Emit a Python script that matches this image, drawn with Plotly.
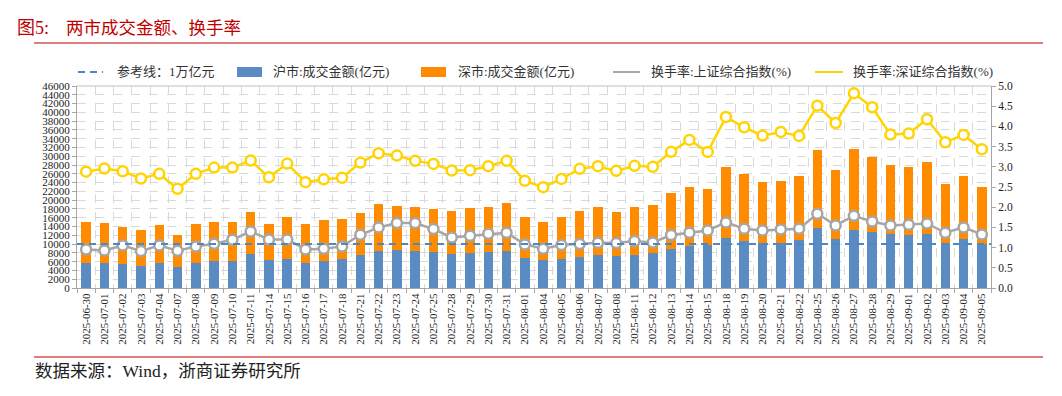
import plotly.graph_objects as go

dates = ["2025-06-30", "2025-07-01", "2025-07-02", "2025-07-03", "2025-07-04", "2025-07-07",
         "2025-07-08", "2025-07-09", "2025-07-10", "2025-07-11", "2025-07-14", "2025-07-15",
         "2025-07-16", "2025-07-17", "2025-07-18", "2025-07-21", "2025-07-22", "2025-07-23",
         "2025-07-24", "2025-07-25", "2025-07-28", "2025-07-29", "2025-07-30", "2025-07-31",
         "2025-08-01", "2025-08-04", "2025-08-05", "2025-08-06", "2025-08-07", "2025-08-08",
         "2025-08-11", "2025-08-12", "2025-08-13", "2025-08-14", "2025-08-15", "2025-08-18",
         "2025-08-19", "2025-08-20", "2025-08-21", "2025-08-22", "2025-08-25", "2025-08-26",
         "2025-08-27", "2025-08-28", "2025-08-29", "2025-09-01", "2025-09-02", "2025-09-03",
         "2025-09-04", "2025-09-05"]

sh_amount = [5760, 5610, 5530, 5080, 5760, 4850, 5760, 6060, 6210, 7650, 6290, 6520, 5760, 6210,
             6520, 7430, 8490, 8640, 8490, 8260, 7730, 8030, 8260, 8490, 6900, 6440, 6670, 7120,
             7580, 7200, 7580, 7880, 8940, 9550, 9700, 11370, 10610, 10230, 10230, 10990, 13720,
             11220, 13260, 12660, 12280, 12130, 12350, 10160, 11060, 9930]

sz_amount = [9170, 9090, 8340, 8030, 8560, 7280, 8870, 9020, 8790, 9550, 8340, 9700, 8710, 9250,
             9240, 9620, 10530, 10080, 10000, 9700, 9780, 10080, 10230, 10910, 9170, 8640, 9400,
             10310, 10760, 10000, 10760, 10990, 12660, 13340, 12810, 16290, 15310, 13870, 14100,
             14550, 17730, 15680, 18420, 17120, 15760, 15380, 16450, 13480, 14400, 13180]

sh_turnover = [0.955, 0.93, 1.054, 0.914, 1.054, 0.92, 1.03, 1.095, 1.194, 1.40, 1.20, 1.20, 0.955,
               0.97, 1.03, 1.318, 1.50, 1.606, 1.606, 1.458, 1.252, 1.293, 1.343, 1.367, 1.079,
               0.972, 1.063, 1.087, 1.12, 1.112, 1.161, 1.128, 1.31, 1.367, 1.425, 1.623, 1.466,
               1.425, 1.45, 1.466, 1.837, 1.549, 1.787, 1.647, 1.549, 1.565, 1.598, 1.367, 1.50,
               1.326]

sz_turnover = [2.88, 2.957, 2.89, 2.71, 2.825, 2.455, 2.825, 2.98, 2.98, 3.155, 2.74, 3.08, 2.62,
               2.69, 2.73, 3.105, 3.336, 3.278, 3.147, 3.072, 2.908, 2.916, 3.015, 3.147, 2.652,
               2.496, 2.70, 2.949, 3.015, 2.90, 3.023, 3.00, 3.37, 3.665, 3.369, 4.234, 3.978,
               3.772, 3.863, 3.764, 4.514, 4.085, 4.819, 4.473, 3.797, 3.822, 4.176, 3.608, 3.789,
               3.435]

ref_level = 10000  # 1万亿元

names = ["参考线：1万亿元", "沪市:成交金额(亿元)", "深市:成交金额(亿元)",
         "换手率:上证综合指数(%)", "换手率:深证综合指数(%)"]

title_label = "图5:"
title_text = "两市成交金额、换手率"
source_text = "数据来源：Wind，浙商证券研究所"

# the page body has an 8px default margin; positions below are in window pixels
OFF = 8
W, H = 1062 - OFF, 396 - OFF
L, R, T, B = 77 - OFF, 991 - OFF, 86 - OFF, 288 - OFF

def px(x):
    return ((x - OFF) - L) / (R - L)

def py(y):
    return (B - (y - OFF)) / (B - T)

SERIF = "Liberation Serif, Noto Sans CJK SC, serif"
C_BLUE = "#5A8BC2"
C_ORANGE = "#FF8C00"
C_GREY = "#A6A6A6"
C_YELLOW = "#FFD400"
C_REF = "#4A88CC"
C_RED = "#C00000"
REF_DASH = "7px,5px"

fig = go.Figure()

fig.add_trace(go.Bar(x=dates, y=sh_amount, name=names[1], marker=dict(color=C_BLUE, line=dict(width=0)),
                     xaxis="x", yaxis="y"))
fig.add_trace(go.Bar(x=dates, y=sz_amount, name=names[2], marker=dict(color=C_ORANGE, line=dict(width=0)),
                     xaxis="x", yaxis="y"))
fig.add_trace(go.Scatter(
    x=[0, 1], y=[ref_level, ref_level], xaxis="x2", yaxis="y",
    mode="lines", name=names[0],
    line=dict(color=C_REF, width=2, dash=REF_DASH),
))
fig.add_trace(go.Scatter(
    x=dates, y=sh_turnover, name=names[3], xaxis="x", yaxis="y2", mode="lines+markers",
    line=dict(color=C_GREY, width=2.5),
    marker=dict(symbol="circle", size=10, color="white", line=dict(color=C_GREY, width=2.5)),
))
fig.add_trace(go.Scatter(
    x=dates, y=sz_turnover, name=names[4], xaxis="x", yaxis="y2", mode="lines+markers",
    line=dict(color=C_YELLOW, width=2.5),
    marker=dict(symbol="circle", size=10, color="white", line=dict(color=C_YELLOW, width=2.5)),
))

fig.update_layout(
    width=W, height=H,
    margin=dict(l=L, r=W - R, t=T, b=H - B, pad=0, autoexpand=False),
    paper_bgcolor="white", plot_bgcolor="white",
    barmode="stack", bargap=0.48,
    font=dict(family=SERIF, size=11, color="#222222"),
    showlegend=False,
    xaxis=dict(
        type="category", tickson="boundaries", tickangle=-90,
        showgrid=True, gridcolor="#D9D9D9", griddash="dash", gridwidth=1,
        showline=True, linecolor="#A6A6A6", linewidth=1,
        ticks="outside", ticklen=4, tickcolor="#A6A6A6",
        tickfont=dict(size=11, color="#222222"), range=[-0.5, len(dates) - 0.5],
    ),
    xaxis2=dict(overlaying="x", range=[0, 1], visible=False, fixedrange=True),
    yaxis=dict(
        range=[0, 46000], dtick=2000, tick0=0, tickformat="d",
        showgrid=True, gridcolor="#D9D9D9", griddash="dash", gridwidth=1,
        showline=True, linecolor="#A6A6A6", linewidth=1,
        ticks="outside", ticklen=4, tickcolor="#A6A6A6",
        tickfont=dict(size=11, color="#222222"), zeroline=False,
    ),
    yaxis2=dict(
        overlaying="y", side="right", range=[0, 5], dtick=0.5, tickformat=".1f",
        showgrid=False, showline=True, linecolor="#A6A6A6", linewidth=1,
        ticks="outside", ticklen=4, tickcolor="#A6A6A6",
        tickfont=dict(size=11.5, color="#222222"), zeroline=False,
    ),
)

# top border of plot
fig.add_shape(type="line", xref="paper", yref="paper", x0=0, x1=1, y0=1, y1=1,
              line=dict(color="#BFBFBF", width=1))
# red rules
for yy in (43, 357):
    fig.add_shape(type="line", xref="paper", yref="paper", x0=px(34), x1=px(1043), y0=py(yy), y1=py(yy),
                  line=dict(color=C_RED, width=1.2))

# legend (drawn manually to match the reference layout)
LEG_Y = 72
legend_items = [
    ("dash", C_REF, 78, 103, 115),
    ("rect", C_BLUE, 237, 262, 271),
    ("rect", C_ORANGE, 421, 446, 456),
    ("line", C_GREY, 613, 640, 649),
    ("line", C_YELLOW, 815, 843, 851),
]
for (kind, col, x0, x1, tx), name in zip(legend_items, names):
    if kind == "rect":
        fig.add_shape(type="rect", xref="paper", yref="paper", x0=px(x0), x1=px(x1),
                      y0=py(LEG_Y + 5), y1=py(LEG_Y - 5), line=dict(width=0), fillcolor=col)
    else:
        fig.add_shape(type="line", xref="paper", yref="paper", x0=px(x0), x1=px(x1),
                      y0=py(LEG_Y), y1=py(LEG_Y),
                      line=dict(color=col, width=2, dash=REF_DASH if kind == "dash" else "solid"))
    fig.add_annotation(text=name, xref="paper", yref="paper", x=px(tx), y=py(LEG_Y),
                       xanchor="left", yanchor="middle", showarrow=False,
                       font=dict(family=SERIF, size=13, color="#333333"))

fig.add_annotation(text=title_label, xref="paper", yref="paper", x=px(15), y=py(28),
                   xanchor="left", yanchor="middle", showarrow=False,
                   font=dict(family=SERIF, size=18, color=C_RED))
fig.add_annotation(text=title_text, xref="paper", yref="paper", x=px(64), y=py(28),
                   xanchor="left", yanchor="middle", showarrow=False,
                   font=dict(family=SERIF, size=17.5, color=C_RED))
fig.add_annotation(text=source_text, xref="paper", yref="paper", x=px(33), y=py(371),
                   xanchor="left", yanchor="middle", showarrow=False,
                   font=dict(family=SERIF, size=17.5, color="#222222"))

fig.write_html("out.html")
